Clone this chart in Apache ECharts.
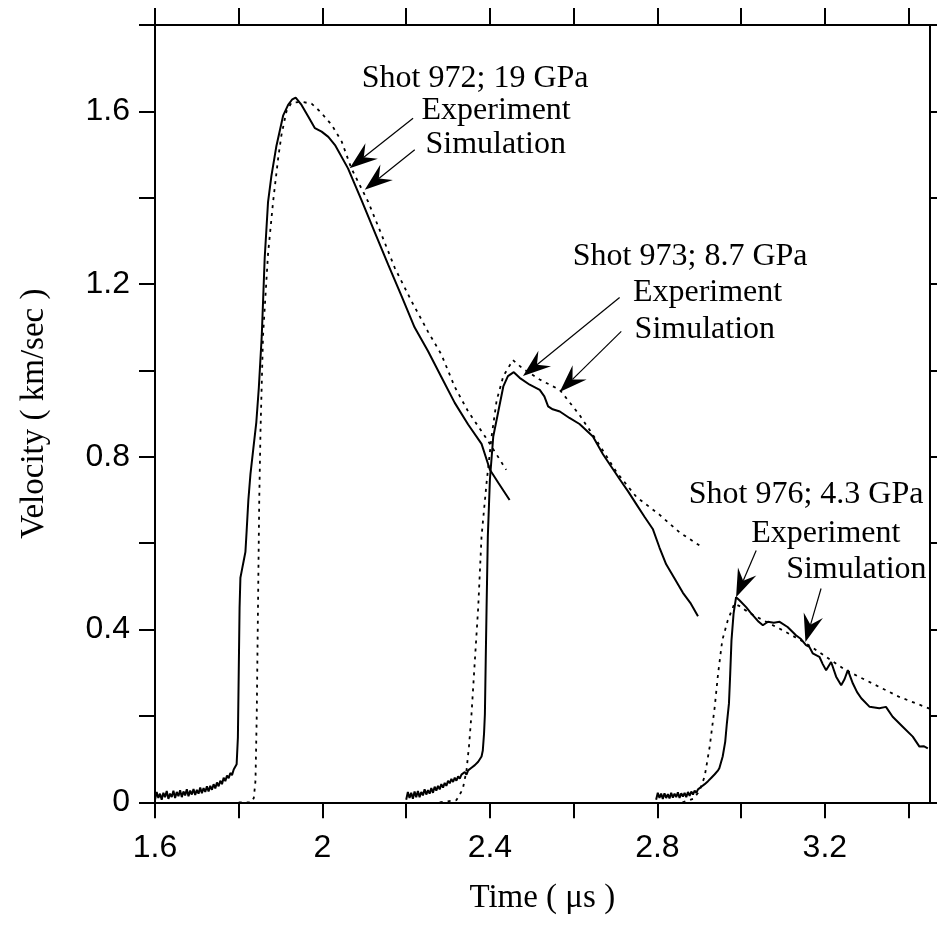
<!DOCTYPE html>
<html><head><meta charset="utf-8">
<script src="https://cdn.jsdelivr.net/npm/echarts@6/dist/echarts.min.js"></script>
<style>html,body{margin:0;padding:0;background:#fff}#c{width:937px;height:942px}</style>
</head><body><div id="c"></div>
<script>
// ---- axis ticks / labels ----
const xTicks = [1.6, 1.8, 2.0, 2.2, 2.4, 2.6, 2.8, 3.0, 3.2, 3.4];
const xTickLabels = [1.6, 2.0, 2.4, 2.8, 3.2];
const yTicks = [0, 0.2, 0.4, 0.6, 0.8, 1.0, 1.2, 1.4, 1.6, 1.8];
const yTickLabels = [0, 0.4, 0.8, 1.2, 1.6];

// ---- Shot 972 ----
const shot972Exp = [
[1.600,0.006],[1.604,0.024],[1.608,0.010],[1.612,0.020],[1.616,0.006],[1.620,0.022],[1.624,0.012],[1.628,0.026],
[1.632,0.008],[1.636,0.020],[1.640,0.012],[1.644,0.027],[1.648,0.010],[1.652,0.024],[1.656,0.014],[1.660,0.028],
[1.664,0.012],[1.668,0.025],[1.672,0.016],[1.676,0.030],[1.680,0.014],[1.684,0.027],[1.688,0.018],[1.692,0.031],
[1.696,0.017],[1.700,0.029],[1.704,0.020],[1.708,0.034],[1.712,0.021],[1.716,0.033],[1.720,0.024],[1.724,0.037],
[1.728,0.025],[1.732,0.038],[1.736,0.029],[1.740,0.042],[1.744,0.032],[1.748,0.046],[1.752,0.037],[1.756,0.050],
[1.760,0.042],[1.764,0.057],[1.768,0.049],[1.772,0.062],[1.776,0.056],[1.780,0.068],[1.784,0.063],[1.788,0.076],
[1.792,0.072],[1.795,0.088],
[1.798,0.15],[1.800,0.30],[1.802,0.45],[1.804,0.52],[1.808,0.54],[1.812,0.56],[1.816,0.58],[1.819,0.63],
[1.823,0.70],[1.828,0.76],[1.835,0.82],[1.842,0.88],[1.848,0.96],[1.855,1.08],[1.862,1.26],[1.870,1.39],
[1.878,1.45],[1.890,1.52],[1.906,1.59],[1.918,1.615],[1.928,1.628],[1.936,1.632],[1.950,1.615],[1.966,1.588],
[1.982,1.561],[1.998,1.553],[2.014,1.541],[2.030,1.522],[2.061,1.468],[2.093,1.395],[2.125,1.32],[2.157,1.245],
[2.189,1.172],[2.220,1.10],[2.252,1.045],[2.284,0.985],[2.316,0.925],[2.348,0.875],[2.380,0.83],[2.400,0.77],
[2.420,0.74],[2.447,0.70]
];
const shot972Sim = [
[1.800,0],[1.830,0],[1.836,0.01],[1.840,0.05],[1.843,0.2],[1.846,0.45],[1.849,0.7],[1.852,0.86],[1.858,1.08],
[1.870,1.27],[1.882,1.39],[1.894,1.49],[1.902,1.545],[1.914,1.60],[1.926,1.62],[1.950,1.622],[1.974,1.618],
[1.994,1.60],[2.022,1.569],[2.046,1.53],[2.069,1.468],[2.109,1.391],[2.141,1.315],[2.173,1.237],[2.213,1.16],
[2.252,1.09],[2.284,1.037],[2.316,0.962],[2.348,0.905],[2.390,0.845],[2.439,0.77]
];

// ---- Shot 973 ----
const shot973Exp = [
[2.200,0.006],[2.204,0.024],[2.208,0.010],[2.212,0.022],[2.216,0.008],[2.220,0.025],[2.224,0.012],[2.228,0.026],
[2.232,0.012],[2.236,0.024],[2.240,0.016],[2.244,0.030],[2.248,0.018],[2.252,0.028],[2.256,0.020],[2.260,0.033],
[2.264,0.022],[2.268,0.036],[2.272,0.027],[2.276,0.038],[2.280,0.030],[2.284,0.042],[2.288,0.034],[2.292,0.045],
[2.296,0.038],[2.300,0.050],[2.304,0.044],[2.308,0.054],[2.312,0.047],[2.316,0.057],[2.320,0.050],[2.324,0.060],
[2.328,0.055],[2.332,0.064],[2.336,0.060],[2.340,0.070],[2.344,0.064],[2.348,0.074],[2.352,0.070],[2.356,0.080],
[2.360,0.077],[2.364,0.086],[2.368,0.084],[2.372,0.094],[2.376,0.096],[2.380,0.106],
[2.383,0.12],[2.386,0.16],[2.388,0.204],[2.390,0.33],[2.392,0.45],[2.395,0.616],[2.400,0.748],[2.408,0.847],
[2.420,0.905],[2.432,0.963],[2.443,0.987],[2.457,0.996],[2.471,0.983],[2.495,0.967],[2.519,0.955],[2.530,0.94],
[2.539,0.917],[2.550,0.91],[2.567,0.905],[2.590,0.89],[2.614,0.876],[2.646,0.847],[2.670,0.806],[2.690,0.777],
[2.710,0.748],[2.730,0.72],[2.750,0.69],[2.770,0.66],[2.789,0.633],[2.805,0.59],[2.821,0.551],[2.840,0.52],
[2.861,0.485],[2.880,0.46],[2.897,0.431]
];
const shot973Sim = [
[2.280,0],[2.320,0.005],[2.335,0.03],[2.344,0.073],[2.350,0.13],[2.356,0.204],[2.364,0.328],[2.372,0.451],
[2.380,0.616],[2.392,0.74],[2.404,0.847],[2.416,0.93],[2.432,0.987],[2.455,1.024],[2.479,1.004],[2.519,0.979],
[2.567,0.955],[2.614,0.897],[2.654,0.839],[2.702,0.765],[2.750,0.707],[2.805,0.666],[2.853,0.625],[2.905,0.592]
];

// ---- Shot 976 ----
const shot976Exp = [
[2.797,0.006],[2.801,0.022],[2.805,0.010],[2.809,0.020],[2.813,0.008],[2.817,0.021],[2.821,0.010],[2.825,0.019],
[2.829,0.009],[2.833,0.022],[2.837,0.011],[2.841,0.020],[2.845,0.012],[2.849,0.023],[2.853,0.010],[2.857,0.021],
[2.861,0.013],[2.865,0.022],[2.869,0.012],[2.873,0.024],[2.877,0.015],[2.881,0.025],[2.885,0.018],[2.889,0.027],
[2.893,0.022],[2.897,0.030],[2.901,0.027],[2.905,0.036],[2.909,0.034],[2.913,0.042],[2.917,0.041],[2.921,0.049],
[2.925,0.050],[2.929,0.057],[2.933,0.059],[2.937,0.065],[2.941,0.068],[2.945,0.074],[2.948,0.079],
[2.956,0.106],[2.962,0.14],[2.966,0.183],[2.971,0.229],[2.974,0.298],[2.977,0.375],
[2.982,0.437],[2.988,0.475],[2.996,0.468],[3.012,0.452],[3.022,0.44],[3.032,0.429],[3.042,0.418],[3.052,0.41],
[3.064,0.418],[3.078,0.416],[3.092,0.418],[3.111,0.406],[3.131,0.387],[3.143,0.378],[3.155,0.364],[3.163,0.36],
[3.171,0.345],[3.187,0.337],[3.195,0.32],[3.203,0.306],[3.215,0.325],[3.227,0.291],[3.239,0.271],[3.247,0.285],
[3.255,0.306],[3.267,0.275],[3.277,0.255],[3.287,0.241],[3.307,0.221],[3.330,0.218],[3.346,0.221],[3.362,0.198],
[3.386,0.175],[3.410,0.152],[3.426,0.129],[3.436,0.13],[3.446,0.125]
];
const shot976Sim = [
[2.860,0],[2.885,0.008],[2.900,0.025],[2.913,0.06],[2.925,0.129],[2.937,0.221],[2.945,0.298],[2.955,0.375],
[2.968,0.421],[2.984,0.46],[2.995,0.455],[3.010,0.445],[3.030,0.433],[3.060,0.418],[3.100,0.398],[3.130,0.382],
[3.155,0.368],[3.203,0.337],[3.250,0.306],[3.314,0.275],[3.378,0.244],[3.450,0.217]
];

// ---- annotations (data coordinates) ----
const annoTexts = [
['Shot 972; 19 GPa', 2.094, 1.655], ['Experiment', 2.2365, 1.581], ['Simulation', 2.246, 1.502],
['Shot 973; 8.7 GPa', 2.598, 1.244], ['Experiment', 2.7415, 1.1605], ['Simulation', 2.7456, 1.074],
['Shot 976; 4.3 GPa', 2.875, 0.691], ['Experiment', 3.024, 0.602], ['Simulation', 3.1076, 0.518]
];
const annoArrows = [
[2.2165, 1.584, 2.065, 1.468], [2.2205, 1.511, 2.101, 1.4185],
[2.7098, 1.169, 2.479, 0.987], [2.7138, 1.0905, 2.5666, 0.950],
[3.036, 0.583, 2.988, 0.475], [3.191, 0.495, 3.1537, 0.371]
];

const fmt = v => String(+(+v).toFixed(1));
const axisLineStyle = {color: '#000', width: 2};
const SANS = '"Liberation Sans", Arial, sans-serif';
const SERIF = '"Liberation Serif", "Times New Roman", serif';

const chart = echarts.init(document.getElementById('c'), null, {renderer: 'canvas'});
const expLine = {color: '#000', width: 2};
const simLine = {color: '#000', width: 1.8, type: [3, 5]};
function ser(data, style) {
  return {type: 'line', data: data, showSymbol: false, symbol: 'none', lineStyle: style,
          xAxisIndex: 0, yAxisIndex: 0, animation: false, silent: true};
}
const option = {
  animation: false,
  backgroundColor: '#fff',
  grid: {left: 155, right: 7.5, top: 25, bottom: 139.7, containLabel: false, outerBoundsMode: 'none'},
  xAxis: [
    {type: 'value', position: 'bottom', min: 1.6, max: 3.45,
     name: 'Time ( \u03bcs )', nameLocation: 'middle', nameGap: 80,
     nameTextStyle: {fontFamily: SERIF, fontSize: 33, color: '#000'},
     axisLine: {show: true, onZero: false, lineStyle: axisLineStyle},
     axisTick: {show: true, length: 16, lineStyle: axisLineStyle, customValues: xTicks},
     axisLabel: {show: true, customValues: xTickLabels, formatter: fmt, fontFamily: SANS, fontSize: 32, color: '#000', margin: 30},
     splitLine: {show: false}},
    {type: 'value', position: 'top', min: 1.6, max: 3.45,
     axisLine: {show: true, onZero: false, lineStyle: axisLineStyle},
     axisTick: {show: true, length: 17, lineStyle: axisLineStyle, customValues: xTicks},
     axisLabel: {show: false}, splitLine: {show: false}}
  ],
  yAxis: [
    {type: 'value', position: 'left', min: 0, max: 1.8,
     name: 'Velocity ( km/sec )', nameLocation: 'middle', nameGap: 104,
     nameTextStyle: {fontFamily: SERIF, fontSize: 33, color: '#000'},
     axisLine: {show: true, onZero: false, lineStyle: axisLineStyle},
     axisTick: {show: true, length: 16, lineStyle: axisLineStyle, customValues: yTicks},
     axisLabel: {show: true, customValues: yTickLabels, formatter: fmt, fontFamily: SANS, fontSize: 32, color: '#000', margin: 25},
     splitLine: {show: false}},
    {type: 'value', position: 'right', min: 0, max: 1.8,
     axisLine: {show: true, onZero: false, lineStyle: axisLineStyle},
     axisTick: {show: true, length: 8, lineStyle: axisLineStyle, customValues: yTicks},
     axisLabel: {show: false}, splitLine: {show: false}}
  ],
  series: [
    ser(shot972Exp, expLine), ser(shot972Sim, simLine),
    ser(shot973Exp, expLine), ser(shot973Sim, simLine),
    ser(shot976Exp, expLine), ser(shot976Sim, simLine)
  ]
};
chart.setOption(option);

const toPx = (t, v) => chart.convertToPixel({xAxisIndex: 0, yAxisIndex: 0}, [t, v]);
const gfx = [];
annoTexts.forEach(a => {
  const p = toPx(a[1], a[2]);
  gfx.push({type: 'text', x: p[0], y: p[1] - 9, z: 100, silent: true,
    style: {text: a[0], fontFamily: SERIF, fontSize: 32, fill: '#000', align: 'left', verticalAlign: 'middle'}});
});
annoArrows.forEach(a => {
  const s = toPx(a[0], a[1]), e = toPx(a[2], a[3]);
  const dx = e[0] - s[0], dy = e[1] - s[1], len = Math.hypot(dx, dy);
  const ux = dx / len, uy = dy / len, nx = -uy, ny = ux;
  const L = 28, W = 10, N = 10;
  const back = [e[0] - ux * L, e[1] - uy * L];
  const notch = [e[0] - ux * (L - N), e[1] - uy * (L - N)];
  gfx.push({type: 'line', z: 100, silent: true, shape: {x1: s[0], y1: s[1], x2: notch[0], y2: notch[1]},
    style: {stroke: '#000', lineWidth: 1.2}});
  gfx.push({type: 'polygon', z: 100, silent: true, shape: {points: [
    [e[0], e[1]], [back[0] + nx * W, back[1] + ny * W], notch, [back[0] - nx * W, back[1] - ny * W]]},
    style: {fill: '#000'}});
});
chart.setOption({graphic: gfx});
</script>
</body></html>
